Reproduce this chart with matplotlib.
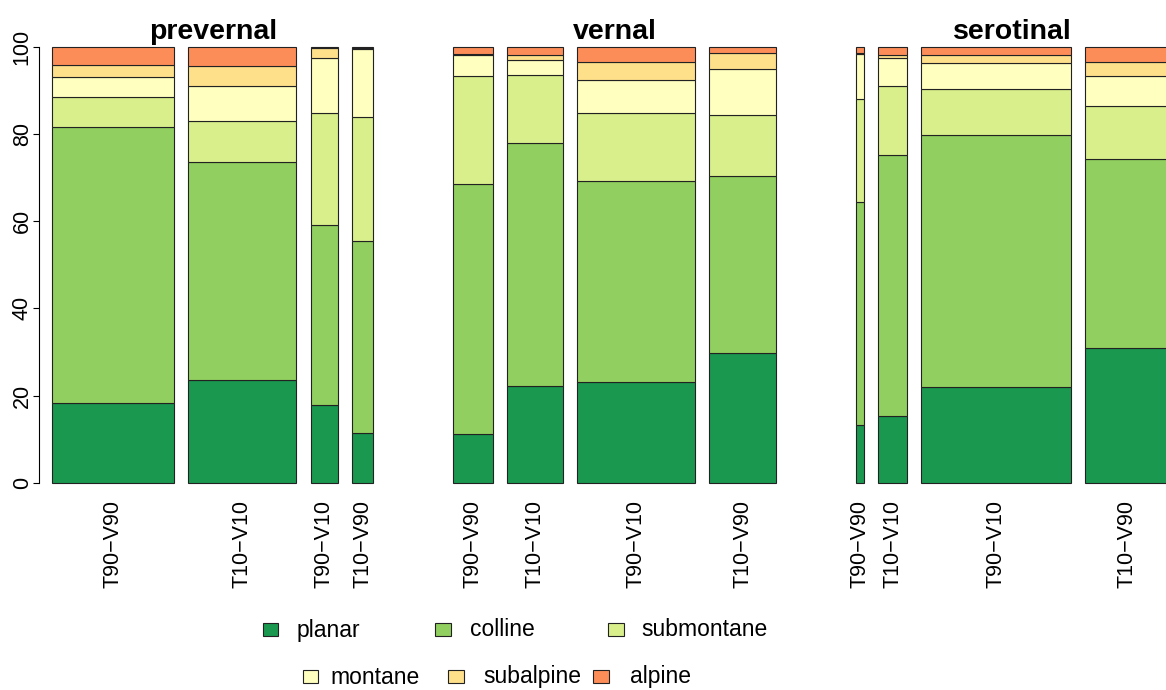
import numpy as np
import matplotlib
matplotlib.use('Agg')
import matplotlib.pyplot as plt
from matplotlib.patches import Rectangle

plt.rcParams['font.family'] = ['Liberation Sans', 'DejaVu Sans']

# ---- data ----
seasons = ['prevernal', 'vernal', 'serotinal']
bar_labels = [['T90\u2212V90', 'T10\u2212V10', 'T90\u2212V10', 'T10\u2212V90'],
              ['T90\u2212V90', 'T10\u2212V10', 'T90\u2212V10', 'T10\u2212V90'],
              ['T90\u2212V90', 'T10\u2212V10', 'T90\u2212V10', 'T10\u2212V90']]
# relative bar widths per season
widths = [[43.6, 38.9, 9.9, 7.4],
          [14.3, 19.9, 42.3, 23.9],
          [2.8, 10.4, 53.6, 30.0]]
belts = ['planar', 'colline', 'submontane', 'montane', 'subalpine', 'alpine']
colors = ['#1A9850', '#91CF60', '#D9EF8B', '#FFFFBF', '#FEE08B', '#FC8D59']
# percentages, one row per belt, 12 columns (4 bars x 3 seasons)
planar     = [18.2, 23.5, 17.8, 11.5,  11.1, 22.2, 23.2, 29.8,  13.2, 15.4, 21.9, 30.8]
colline    = [63.4, 50.0, 41.2, 44.0,  57.3, 55.6, 46.1, 40.5,  51.2, 59.8, 57.8, 43.5]
submontane = [ 6.9,  9.4, 25.9, 28.4,  24.8, 15.6, 15.6, 14.0,  23.6, 15.9, 10.6, 12.2]
montane    = [ 4.5,  8.0, 12.6, 15.5,   4.8,  3.6,  7.5, 10.7,  10.4,  6.2,  6.0,  6.7]
subalpine  = [ 2.7,  4.7,  2.3,  0.4,   0.4,  1.0,  4.2,  3.5,   0.2,  0.9,  1.9,  3.4]
alpine     = [ 4.3,  4.4,  0.2,  0.2,   1.6,  2.0,  3.4,  1.5,   1.4,  1.8,  1.8,  3.4]
values = [planar, colline, submontane, montane, subalpine, alpine]

W, H = 1166, 690
fig = plt.figure(figsize=(W / 100, H / 100), dpi=100)

# axes placement in pixels: y=0 at 482.7, y=100 at 46.7, axis line at x=39.3
ppu = (482.7 - 46.7) / 100.0
ax_bot = 482.7 + 4 * ppu
ax_top = 46.7 - 4 * ppu
ax = fig.add_axes([39.3 / W, 1 - ax_bot / H, 1 - 39.3 / W, (ax_bot - ax_top) / H])

xscale = 2.785   # pixels per width unit
gap = 5.13
group_gap = 28.8
x0 = 13.0 / xscale

lefts, ws, labs, centers = [], [], [], []
pos = 0.0
for g in range(len(seasons)):
    gstart = pos
    for i, w in enumerate(widths[g]):
        lefts.append(pos)
        ws.append(w)
        labs.append(bar_labels[g][i])
        pos += w
        if i < len(widths[g]) - 1:
            pos += gap
    centers.append((gstart + pos) / 2)
    pos += group_gap

lefts = np.array(lefts)
ws = np.array(ws)
bottom = np.zeros(len(lefts))
for k, v in enumerate(values):
    v = np.array(v)
    ax.bar(lefts, v, width=ws, bottom=bottom, align='edge', color=colors[k],
           edgecolor='#222222', linewidth=0.8)
    bottom += v

ax.set_xlim(-x0, -x0 + (W - 39.3) / xscale)
ax.set_ylim(-4, 104)
ax.set_xticks(lefts + ws / 2)
ax.set_xticklabels(labs, rotation=90, fontsize=15.5, va='top')
ax.tick_params(axis='x', length=0, pad=0)
ax.set_yticks([0, 20, 40, 60, 80, 100])
ax.set_yticklabels(['0', '20', '40', '60', '80', '100'], rotation=90, va='center', fontsize=15.5)
ax.tick_params(axis='y', length=4.3, width=0.8, pad=0.5)
for s in ['top', 'right', 'bottom']:
    ax.spines[s].set_visible(False)
ax.spines['left'].set_bounds(0, 100)
ax.spines['left'].set_linewidth(0.8)

for g, name in enumerate(seasons):
    ax.text(centers[g], 100.5, name, ha='center', va='bottom', fontsize=20.5,
            fontweight='bold')

# legend laid out by hand (two centred rows like the original)
def fx(x):
    return x / W

def fy(y):
    return 1 - y / H

rows = [(629, [262.7, 435.0, 608.3], [296.7, 470.0, 641.7], [0, 1, 2]),
        (676, [302.7, 448.3, 593.3], [330.0, 483.3, 630.0], [3, 4, 5])]
for yc, bx, tx, idx in rows:
    for b, t, k in zip(bx, tx, idx):
        fig.add_artist(Rectangle((fx(b), fy(yc + 6.5)), 15.5 / W, 13 / H,
                                 transform=fig.transFigure, facecolor=colors[k],
                                 edgecolor='#222222', linewidth=0.8))
        fig.text(fx(t), fy(yc + 1), belts[k], ha='left', va='center', fontsize=16.5)

fig.savefig('out.png', dpi=100)
